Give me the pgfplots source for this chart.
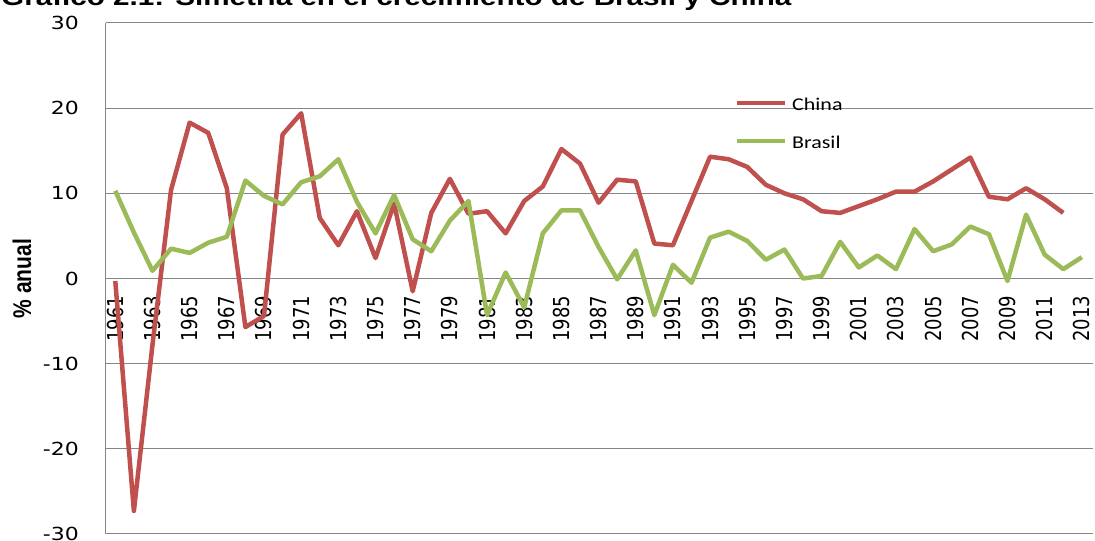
\documentclass[border=0pt]{standalone}
\usepackage{fontspec}
\setmainfont{DejaVu Sans}
\usepackage{pgfplots}
\pgfplotsset{compat=1.18}
\usetikzlibrary{calc}
\newfontfamily\tickfont[FakeStretch=1.22]{DejaVu Sans}
\newfontfamily\yearfont{DejaVu Sans}
\newfontfamily\legfont[FakeStretch=1.22]{Carlito}
\newfontfamily\titlefont[FakeStretch=1.22]{Liberation Sans}
\newfontfamily\labfont{Liberation Sans}
\definecolor{chinared}{RGB}{192,80,77}
\definecolor{brasilgreen}{RGB}{155,187,89}
\definecolor{gridgray}{RGB}{134,134,134}
\newcommand{\yl}[1]{\scalebox{1}[1.22]{#1}}

\begin{document}
\begin{tikzpicture}
\begin{axis}[
  scale only axis,
  width=987pt, height=511pt,
  xmin=1960.5, xmax=2013.6,
  ymin=-30, ymax=30,
  axis x line=middle, axis y line=left,
  axis line style={-, draw=gridgray, line width=1pt},
  hide obscured x ticks=false, hide obscured y ticks=false,
  tick align=inside,
  xtick style={draw=none}, ytick style={draw=none},
  ytick={-30,-20,...,30},
  ymajorgrids, grid style={gridgray, line width=1pt},
  xtick={1961,1963,...,2013},
  xticklabels={\yl{1961},\yl{1963},\yl{1965},\yl{1967},\yl{1969},\yl{1971},\yl{1973},\yl{1975},\yl{1977},\yl{1979},\yl{1981},\yl{1983},\yl{1985},\yl{1987},\yl{1989},\yl{1991},\yl{1993},\yl{1995},\yl{1997},\yl{1999},\yl{2001},\yl{2003},\yl{2005},\yl{2007},\yl{2009},\yl{2011},\yl{2013}},
  xticklabel style={yshift=-17pt, rotate=90, anchor=east, inner sep=0pt, font=\yearfont\fontsize{18}{20}\selectfont},
  yticklabel style={anchor=east, inner sep=0pt, xshift=-27pt, font=\tickfont\fontsize{18}{20}\selectfont},
  /pgf/number format/assume math mode=true,
  legend style={draw=none, fill=none, at={(rel axis cs:0.6373,0.8583)}, anchor=north west,
    inner sep=0pt, column sep=3pt, row sep=20pt, nodes={inner sep=2pt},
    font=\legfont\fontsize{18}{20}\selectfont},
  legend cell align=left,
  legend image code/.code={\draw[#1, line width=4pt, yshift=1.4pt] (0pt,0pt) -- (48pt,0pt);},
]
\addplot[chinared, line width=4.5pt, line join=round] coordinates {
(1961,-0.3) (1962,-27.3) (1963,-7.8) (1964,10.4) (1965,18.3) (1966,17.1)
(1967,10.6) (1968,-5.7) (1969,-4.4) (1970,16.9) (1971,19.4) (1972,7.1)
(1973,3.9) (1974,7.9) (1975,2.4) (1976,8.8) (1977,-1.5) (1978,7.7)
(1979,11.7) (1980,7.6) (1981,7.9) (1982,5.3) (1983,9.1) (1984,10.8)
(1985,15.2) (1986,13.5) (1987,8.9) (1988,11.6) (1989,11.4) (1990,4.1)
(1991,3.9) (1992,9.1) (1993,14.3) (1994,14.0) (1995,13.1) (1996,11.0)
(1997,10.0) (1998,9.3) (1999,7.9) (2000,7.7) (2001,8.5) (2002,9.3)
(2003,10.2) (2004,10.2) (2005,11.4) (2006,12.8) (2007,14.2) (2008,9.6)
(2009,9.3) (2010,10.6) (2011,9.3) (2012,7.7)
};
\addlegendentry{China}
\addplot[brasilgreen, line width=4.5pt, line join=round] coordinates {
(1961,10.3) (1962,5.4) (1963,0.9) (1964,3.5) (1965,3.0) (1966,4.2)
(1967,4.9) (1968,11.5) (1969,9.7) (1970,8.7) (1971,11.3) (1972,12.0)
(1973,14.0) (1974,9.0) (1975,5.3) (1976,9.8) (1977,4.6) (1978,3.2)
(1979,6.8) (1980,9.1) (1981,-4.3) (1982,0.7) (1983,-3.4) (1984,5.3)
(1985,8.0) (1986,8.0) (1987,3.7) (1988,-0.1) (1989,3.3) (1990,-4.3)
(1991,1.6) (1992,-0.5) (1993,4.8) (1994,5.5) (1995,4.4) (1996,2.2)
(1997,3.4) (1998,0.0) (1999,0.3) (2000,4.3) (2001,1.3) (2002,2.7)
(2003,1.1) (2004,5.8) (2005,3.2) (2006,4.0) (2007,6.1) (2008,5.2)
(2009,-0.3) (2010,7.5) (2011,2.8) (2012,1.1) (2013,2.5)
};
\addlegendentry{Brasil}
\coordinate (SW) at (rel axis cs:0,0);
\coordinate (NE) at (rel axis cs:1,1);
\end{axis}
\node[anchor=base west, inner sep=0pt, font=\titlefont\bfseries\fontsize{24.3}{28}\selectfont]
  at ($(SW|-NE)+(-105pt,17.5pt)$) {Gráfico 2.1: Simetría en el crecimiento de Brasil y China};
\node[rotate=90, inner sep=0pt, font=\labfont\bfseries\fontsize{21}{24}\selectfont]
  at ($(SW)!0.5!(SW|-NE)+(-84pt,0pt)$) {\yl{\% anual}};
\pgfresetboundingbox
\path[use as bounding box] ($(SW)+(-106pt,-7pt)$) rectangle ($(NE)+(2pt,23pt)$);
\end{tikzpicture}
\end{document}
